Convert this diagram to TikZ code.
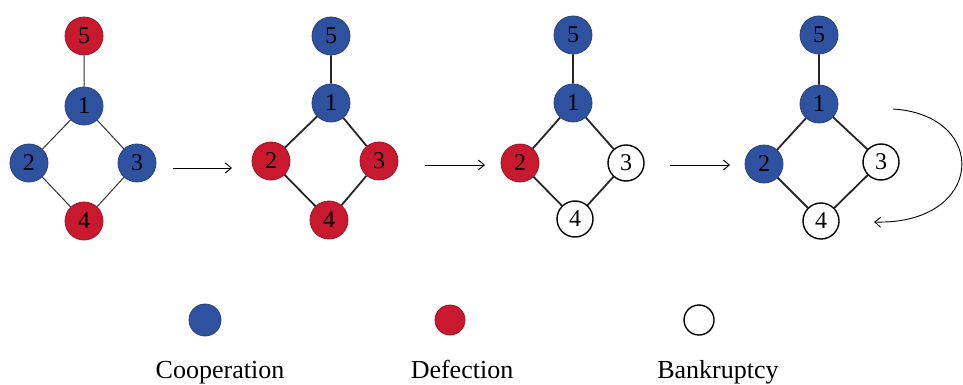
\documentclass[tikz,border=0pt]{standalone}
\usepackage{fontspec}
\setmainfont{Liberation Serif}
\usetikzlibrary{arrows.meta}
\definecolor{coop}{HTML}{2E52A0}
\definecolor{defe}{HTML}{C8192F}
\begin{document}
\begin{tikzpicture}[x=1pt,y=-1pt,
  nd/.style={circle,draw,line width=0.8pt,minimum size=38pt,inner sep=0pt,font=\fontsize{24}{24}\selectfont},
  cn/.style={nd,fill=coop,draw=coop!80!black},
  dn/.style={nd,fill=defe,draw=defe!80!black},
  bn/.style={nd,fill=white,draw=black,line width=1.4pt,minimum size=36pt},
  ed/.style={draw=black!85,line width=1.8pt},
  ethin/.style={draw=black!80,line width=1pt},
  arr/.style={-{Straight Barb[length=6pt,width=10pt]},line width=0.9pt},
  lab/.style={font=\fontsize{26}{26}\selectfont,anchor=base}]
\useasboundingbox (0,0) rectangle (963,385);
% graph 1
\node[dn] (a5) at (84,36) {5};
\node[cn] (a1) at (84,106) {1};
\node[cn] (a2) at (29,163) {2};
\node[cn] (a3) at (137,163) {3};
\node[dn] (a4) at (84,221) {4};
\draw[ethin] (a5)--(a1) (a1)--(a2) (a1)--(a3) (a2)--(a4) (a3)--(a4);
% graph 2
\node[cn] (b5) at (331,36) {5};
\node[cn] (b1) at (331,103) {1};
\node[dn] (b2) at (271,161) {2};
\node[dn] (b3) at (379,161) {3};
\node[dn] (b4) at (329,220) {4};
\draw[ed] (b5)--(b1) (b1)--(b2) (b1)--(b3) (b2)--(b4) (b3)--(b4);
% graph 3
\node[cn] (c5) at (573,35) {5};
\node[cn] (c1) at (573,103) {1};
\node[dn] (c2) at (520,163) {2};
\node[bn] (c3) at (626,163) {3};
\node[bn] (c4) at (575,219) {4};
\draw[ed] (c5)--(c1) (c1)--(c2) (c1)--(c3) (c2)--(c4) (c3)--(c4);
% graph 4
\node[cn] (d5) at (819,35) {5};
\node[cn] (d1) at (819,104) {1};
\node[cn] (d2) at (764,164) {2};
\node[bn] (d3) at (881,162) {3};
\node[bn] (d4) at (821,221) {4};
\draw[ed] (d5)--(d1) (d1)--(d2) (d1)--(d3) (d2)--(d4) (d3)--(d4);
% arrows between stages
\coordinate (s1) at (173,168); \coordinate (e1) at (232,168);
\coordinate (s2) at (425,165); \coordinate (e2) at (485,165);
\coordinate (s3) at (670,165); \coordinate (e3) at (730,165);
\draw[arr] (s1)--(e1);
\draw[arr] (s2)--(e2);
\draw[arr] (s3)--(e3);
% loop arrow
\coordinate (ls) at (893,109); \coordinate (le) at (874,222);
\draw[arr] (ls) .. controls (990,115) and (985,225) .. (le);
% legend
\node[circle,fill=coop,draw=coop!80!black,line width=0.8pt,minimum width=28pt,minimum height=32pt,inner sep=0pt] (k1) at (205,320) {};
\node[circle,fill=defe,draw=defe!80!black,line width=0.8pt,minimum size=30pt,inner sep=0pt] (k2) at (450,320) {};
\node[circle,fill=white,draw=black,line width=1.4pt,minimum size=30pt,inner sep=0pt] (k3) at (699,320) {};
\node[lab] (t1) at (220,378) {Cooperation};
\node[lab] (t2) at (462,378) {Defection};
\node[lab] (t3) at (718,378) {Bankruptcy};
\end{tikzpicture}
\end{document}
